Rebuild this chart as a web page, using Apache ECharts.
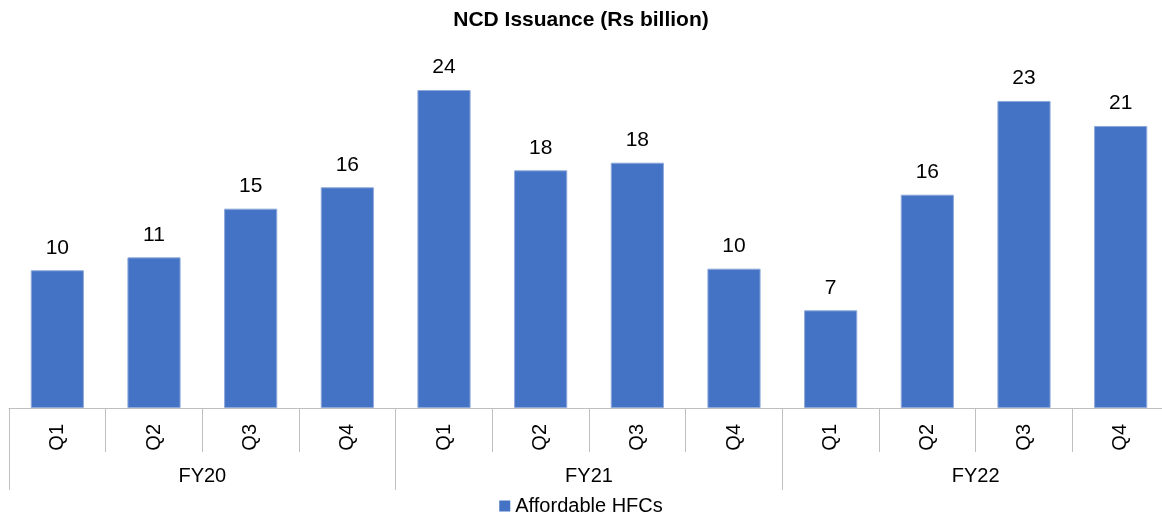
<!DOCTYPE html>
<html>
<head>
<meta charset="utf-8">
<script src="https://cdn.jsdelivr.net/npm/echarts@6/dist/echarts.min.js"></script>
<style>
  html, body { margin: 0; padding: 0; background: #fff; }
  #chart { width: 1162px; height: 513px; }
</style>
</head>
<body>
<div id="chart"></div>
<script>
'use strict';

// quarters (inner axis level) and fiscal years (outer level)
var quarters = ['Q1', 'Q2', 'Q3', 'Q4', 'Q1', 'Q2', 'Q3', 'Q4', 'Q1', 'Q2', 'Q3', 'Q4'];
var years = ['FY20', 'FY21', 'FY22'];
// NCD issuance, Rs billion (labels show rounded values)
var issuance = [10.24, 11.2, 14.82, 16.41, 23.64, 17.67, 18.24, 10.36, 7.26, 15.86, 22.83, 20.97];
var seriesName = 'Affordable HFCs';

var font = '"Liberation Sans", Arial, sans-serif';
var chart = echarts.init(document.getElementById('chart'));

var option = {
    animation: false,
    title: {
        text: 'NCD Issuance (Rs billion)',
        left: 'center',
        top: 5,
        textStyle: {
            fontFamily: font,
            fontSize: 21,
            fontWeight: 'bold',
            color: '#000'
        }
    },
    legend: {
        data: [seriesName],
        left: 'center',
        top: 491,
        icon: 'rect',
        itemWidth: 11,
        itemHeight: 11,
        itemGap: 5,
        itemStyle: { borderWidth: 0 },
        textStyle: { fontFamily: font, fontSize: 20, color: '#000' }
    },
    grid: {
        left: 9,
        top: 4.5,
        width: 1160,
        height: 403.5,
        outerBoundsMode: 'none'
    },
    xAxis: [{
        type: 'category',
        data: quarters,
        position: 'bottom',
        axisLine: { lineStyle: { color: '#bfbfbf', width: 1 } },
        axisTick: { show: true, length: 44, lineStyle: { color: '#bfbfbf' } },
        axisLabel: {
            rotate: 90,
            margin: 16,
            interval: 0,
            fontFamily: font,
            fontSize: 20,
            color: '#000'
        }
    }, {
        type: 'category',
        data: years,
        position: 'bottom',
        offset: 44,
        axisLine: { show: false },
        axisTick: { show: true, length: 38, lineStyle: { color: '#bfbfbf' } },
        axisLabel: {
            margin: 14,
            interval: 0,
            fontFamily: font,
            fontSize: 20,
            color: '#000'
        }
    }],
    yAxis: {
        type: 'value',
        min: 0,
        max: 30,
        show: false,
        splitLine: { show: false }
    },
    series: [{
        name: seriesName,
        type: 'bar',
        xAxisIndex: 0,
        data: issuance,
        barWidth: '55%',
        itemStyle: {
            color: '#4472c4',
            borderColor: '#8eaadb',
            borderWidth: 1
        },
        label: {
            show: true,
            position: 'top',
            distance: 12,
            fontFamily: font,
            fontSize: 21,
            color: '#000',
            formatter: function (p) { return Math.round(p.value); }
        }
    }]
};

chart.setOption(option);
</script>
</body>
</html>
